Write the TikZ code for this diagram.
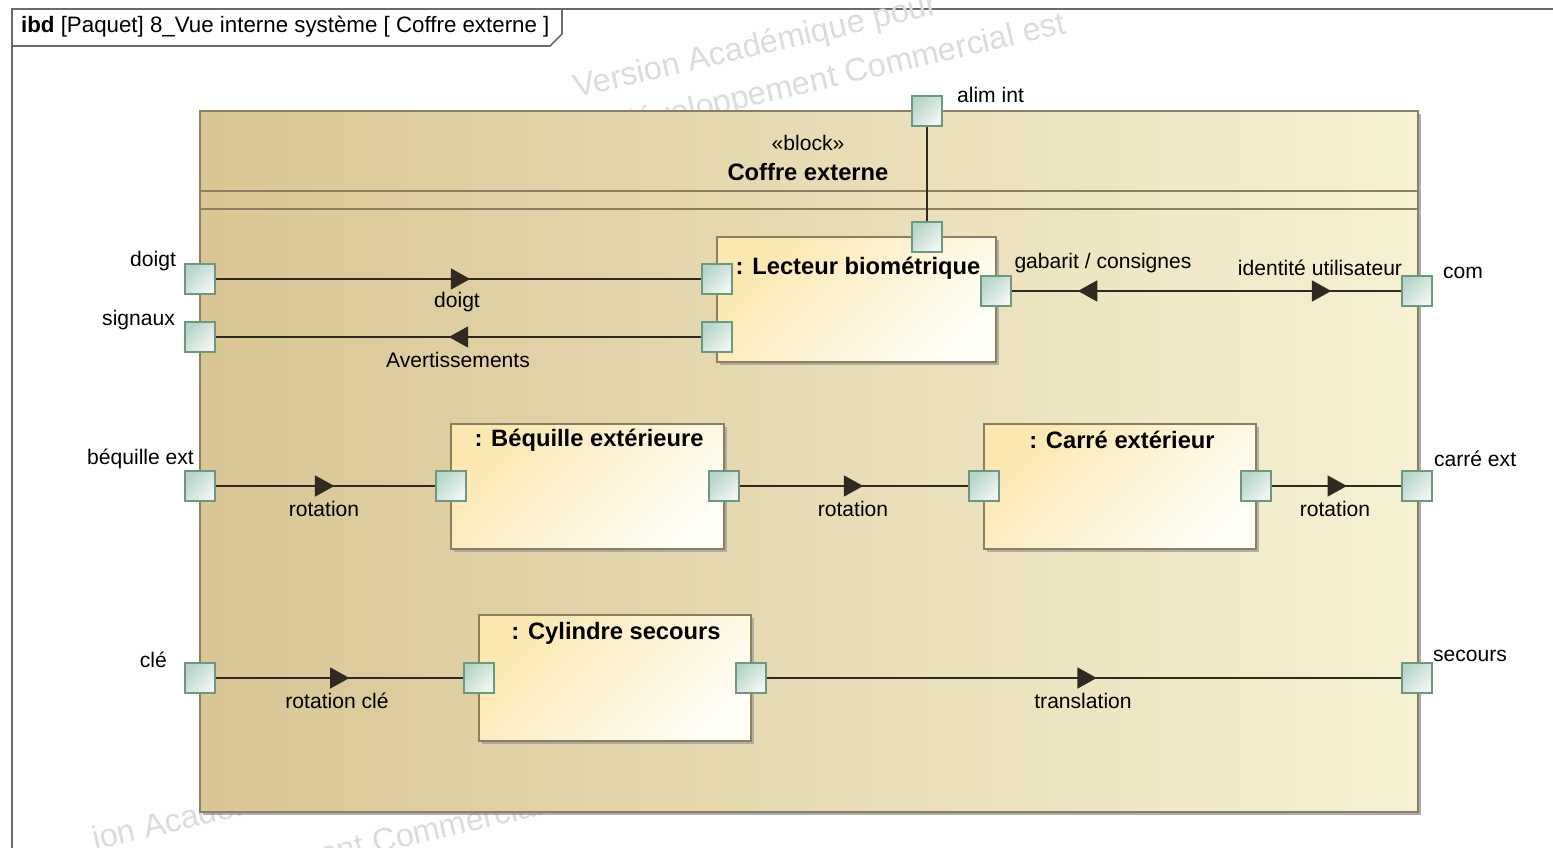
\documentclass[tikz,border=0pt]{standalone}
\usepackage{fontspec}
\setmainfont{Liberation Sans}
\usepackage{tikz}
\usetikzlibrary{positioning}
\usetikzlibrary{arrows.meta,shadows,decorations.markings}

\definecolor{blockleft}{HTML}{D8C694}
\definecolor{blockright}{HTML}{F6F1D3}
\definecolor{blockline}{HTML}{8A7F5E}
\definecolor{partfill}{HTML}{FBE8B0}
\definecolor{partwhite}{HTML}{FFFEF6}
\definecolor{portdark}{HTML}{B5D5C8}
\definecolor{portlight}{HTML}{F2F6F3}
\definecolor{portline}{HTML}{6E977F}
\definecolor{wirecolor}{HTML}{2E2A20}
\definecolor{framegray}{HTML}{6B6B6B}
\definecolor{wmgray}{HTML}{DCDCDC}

\tikzset{
  flowtip/.tip={Triangle[length=11pt,width=12pt]},
  lbl/.style={font=\fontsize{12}{14}\selectfont, inner sep=1pt},
  parttitle/.style={font=\bfseries\fontsize{13.5}{16}\selectfont, inner sep=1pt},
  watermark/.style={font=\fontsize{18.5}{20}\selectfont, text=wmgray, rotate=13, anchor=base west, inner sep=0pt},
  block/.style={rectangle, draw=blockline, line width=0.8pt, inner sep=0pt,
    left color=blockleft, right color=blockright,
    drop shadow={shadow xshift=1.6pt, shadow yshift=-1.6pt, fill=black!45, opacity=0.7}},
  part/.style={rectangle, draw=blockline, line width=0.7pt, inner sep=0pt, minimum height=2.5cm,
    left color=partfill, right color=partwhite, shading angle=45,
    drop shadow={shadow xshift=1.6pt, shadow yshift=-1.6pt, fill=black!40, opacity=0.7}},
  port/.style={rectangle, draw=portline, line width=0.8pt, minimum size=0.6cm, inner sep=0pt,
    left color=portdark, right color=portlight, shading angle=45},
  connector/.style={draw=wirecolor, line width=0.8pt},
  itemflow/.style={postaction={decorate, decoration={markings, mark=at position #1 with {\arrow{flowtip}}}}},
  itemback/.style={postaction={decorate, decoration={markings, mark=at position #1 with {\arrowreversed{flowtip}}}}}
}

\begin{document}
\begin{tikzpicture}[x=0.02cm, y=-0.02cm]
  \fill[white] (0,0) rectangle (1553,848);
  \useasboundingbox (0,0) rectangle (1553,848);

  % frame of the diagram
  \draw[framegray, line width=1.2pt] (12,880) -- (12,9) -- (1580,9);
  \draw[framegray, line width=0.9pt] (12,46) -- (550,46) -- (562,34) -- (562,9);
  \node[lbl, anchor=west, font=\fontsize{12.7}{15}\selectfont] (frametitle) at (19,27) {\textbf{ibd} [Paquet] 8\_Vue interne système [ Coffre externe ]};

  % watermark
  \node[watermark] (wmTopA) at (576,98) {Version Académique pour};
  \node[watermark] (wmTopB) at (622,136) {développement Commercial est};
  \node[watermark] (wmLowA) at (95,850) {ion Académique pour};
  \node[watermark] (wmLowB) at (322,866) {ent Commercial};

  % block
  \node[block, minimum width=24.36cm, minimum height=14.02cm] (coffre) at (809,461.5) {};
  \draw[blockline, line width=0.7pt] (coffre.west |- 0,191) -- (coffre.east |- 0,191);
  \draw[blockline, line width=0.7pt] (coffre.west |- 0,209) -- (coffre.east |- 0,209);
  \node[lbl] (stereo) at (808,143) {«block»};
  \node[parttitle] (coffretitle) at (808,172) {Coffre externe};

  % parts
  \node[part, minimum width=5.58cm] (lecteur) at (856.5,299.5) {};
  \node[part, minimum width=5.46cm] (bequille) at (587.5,486.5) {};
  \node[part, minimum width=5.44cm] (carre) at (1120,486.5) {};
  \node[part, minimum width=5.44cm, minimum height=2.52cm] (cylindre) at (615,678) {};
  \node[parttitle] (tLecteur) at (858,268) {: Lecteur biométrique};
  \node[parttitle] (tBequille) at (589,440) {: Béquille extérieure};
  \node[parttitle] (tCarre) at (1122,440) {: Carré extérieur};
  \node[parttitle] (tCylindre) at (616,633) {: Cylindre secours};

  % ports
  \node[port] (pDoigt) at (200,279) {};
  \node[port] (pSignaux) at (200,337) {};
  \node[port] (pBequille) at (200,486) {};
  \node[port] (pCle) at (200,678) {};
  \node[port] (pAlim) at (927,111) {};
  \node[port] (pCom) at (1417,291) {};
  \node[port] (pCarre) at (1417,486) {};
  \node[port] (pSecours) at (1417,678) {};
  \node[port] (pLecAlim) at (927,237) {};
  \node[port] (pLecDoigt) at (717,279) {};
  \node[port] (pLecSig) at (717,337) {};
  \node[port] (pLecCom) at (996,291) {};
  \node[port] (pBeqIn) at (451,486) {};
  \node[port] (pBeqOut) at (724,486) {};
  \node[port] (pCarIn) at (984,486) {};
  \node[port] (pCarOut) at (1256,486) {};
  \node[port] (pCylIn) at (479,678) {};
  \node[port] (pCylOut) at (751,678) {};

  % port names
  \node[lbl, anchor=east] (nDoigt) at (178,261) {doigt};
  \node[lbl, anchor=east] (nSignaux) at (177,320) {signaux};
  \node[lbl, anchor=east] (nBequille) at (196,459) {béquille ext};
  \node[lbl, anchor=east] (nCle) at (169,660) {clé};
  \node[lbl, anchor=west] (nAlim) at (955,95) {alim int};
  \node[lbl, anchor=west] (nCom) at (1441,273) {com};
  \node[lbl, anchor=west] (nCarre) at (1432,459) {carré ext};
  \node[lbl, anchor=west] (nSecours) at (1431,656) {secours};

  % connectors
  \draw[connector] (pAlim) -- (pLecAlim);
  \draw[connector, itemflow=0.524] (pDoigt) -- (pLecDoigt);
  \draw[connector, itemflow=0.52] (pLecSig) -- (pSignaux);
  \draw[connector, itemback=0.17, itemflow=0.82] (pLecCom) -- (pCom);
  \draw[connector, itemflow=0.54] (pBequille) -- (pBeqIn);
  \draw[connector, itemflow=0.54] (pBeqOut) -- (pCarIn);
  \draw[connector, itemflow=0.58] (pCarOut) -- (pCarre);
  \draw[connector, itemflow=0.54] (pCle) -- (pCylIn);
  \draw[connector, itemflow=0.52] (pCylOut) -- (pSecours);

  % item flow names
  \node[lbl] (fDoigt) at (457,302) {doigt};
  \node[lbl] (fAvert) at (458,360) {Avertissements};
  \node[lbl] (fGabarit) at (1103,263) {gabarit / consignes};
  \node[lbl] (fIdent) at (1320,268) {identité utilisateur};
  \node[lbl] (fRotA) at (324,509) {rotation};
  \node[lbl] (fRotB) at (853,509) {rotation};
  \node[lbl] (fRotC) at (1335,509) {rotation};
  \node[lbl] (fRotCle) at (337,701) {rotation clé};
  \node[lbl] (fTrans) at (1083,701) {translation};
\end{tikzpicture}
\end{document}
